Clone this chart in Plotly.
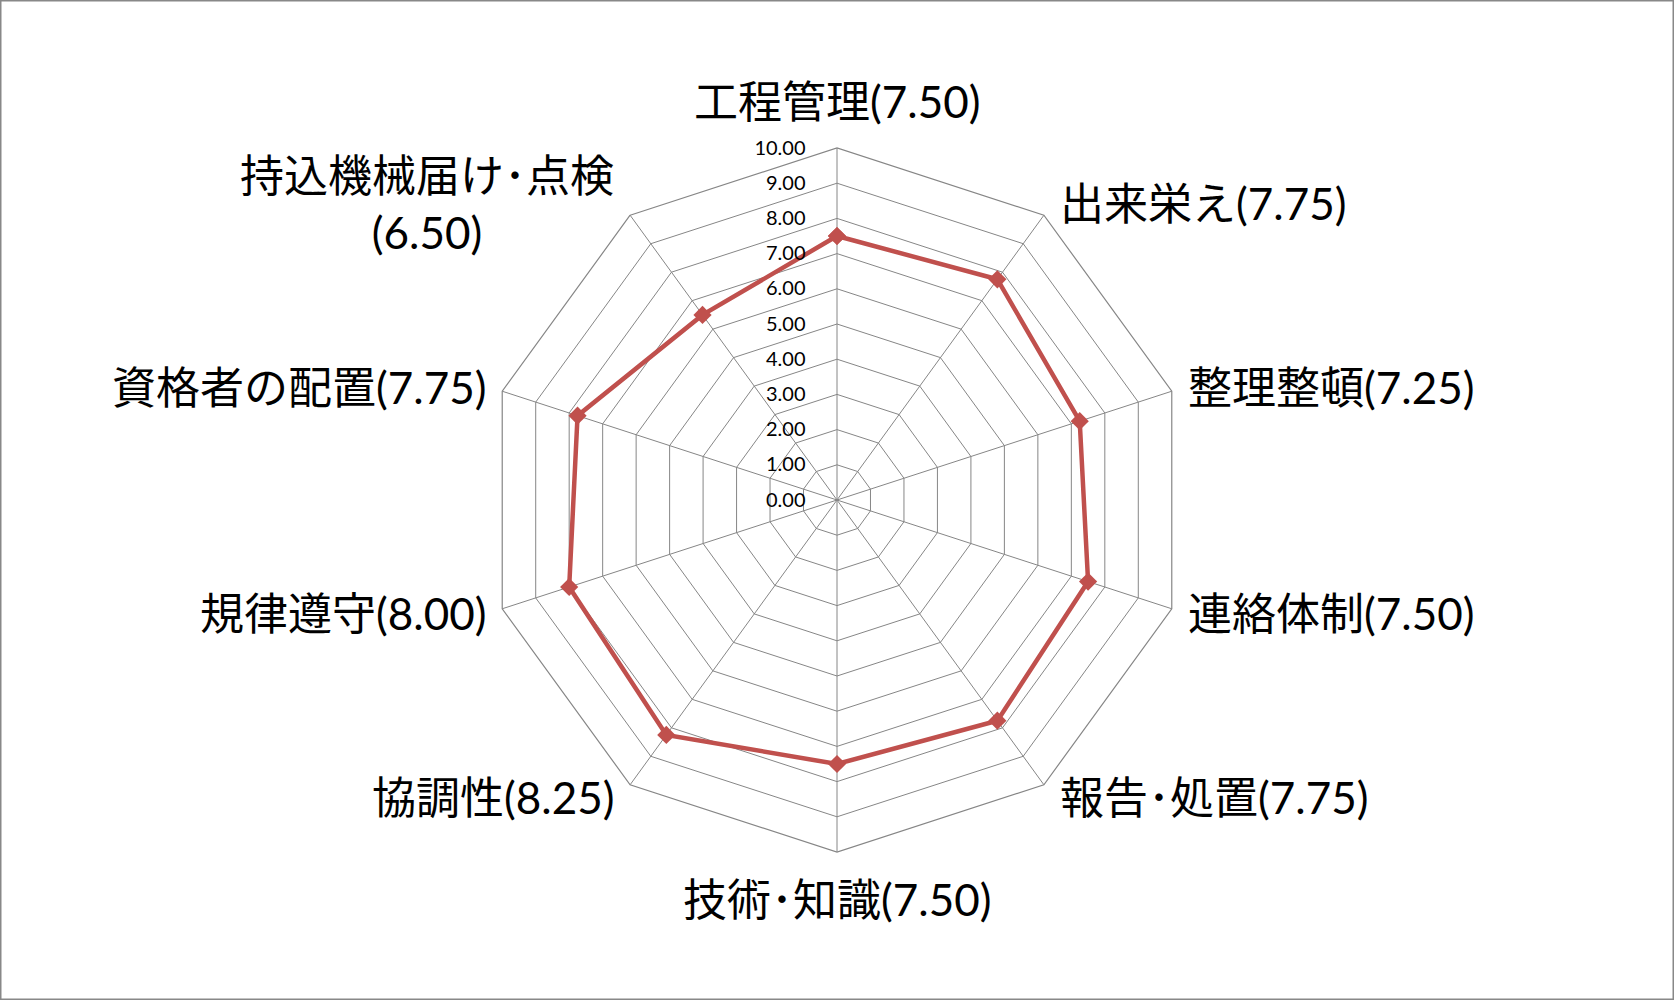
import math
import plotly.graph_objects as go

categories = ["工程管理", "出来栄え", "整理整頓", "連絡体制", "報告･処置",
              "技術･知識", "協調性", "規律遵守", "資格者の配置", "持込機械届け･点検"]
values = [7.50, 7.75, 7.25, 7.50, 7.75, 7.50, 8.25, 8.00, 7.75, 6.50]
radial_ticks = [0, 1, 2, 3, 4, 5, 6, 7, 8, 9, 10]

W, H = 1674, 1000
DOM_X = [0.2897, 0.7103]
DOM_Y = [0.148, 0.852]

FONT = "Lato, 'Noto Sans CJK JP', sans-serif"
GRID = "#868686"
RED = "#C0504D"

fig = go.Figure()
fig.add_trace(go.Scatterpolar(
    r=values + values[:1],
    theta=categories + categories[:1],
    mode="lines+markers",
    line=dict(color=RED, width=4.5),
    marker=dict(symbol="diamond", size=14, color=RED),
    showlegend=False,
))

# category labels placed just outside the outer polygon vertices
cx = (DOM_X[0] + DOM_X[1]) / 2 * W
cy = (1 - (DOM_Y[0] + DOM_Y[1]) / 2) * H
R = (DOM_X[1] - DOM_X[0]) * W / 2
annotations = []
n = len(categories)
for i, (c, v) in enumerate(zip(categories, values)):
    th = 2 * math.pi * i / n
    s, co = math.sin(th), math.cos(th)
    vx, vy = cx + R * s, cy - R * co
    if abs(s) < 0.1:
        xa, dx, dy = "center", 0, -co * 47
    else:
        xa, dx, dy = ("left" if s > 0 else "right"), 14 * (1 if s > 0 else -1), -co * 15
    if c.startswith("持込"):
        text = f"{c}<br>({v:.2f})"
    else:
        text = f"{c}({v:.2f})"
    annotations.append(dict(
        text=text, xref="paper", yref="paper",
        x=(vx + dx) / W, y=1 - (vy + dy) / H,
        xanchor=xa, yanchor="middle", align="center", showarrow=False,
        font=dict(size=44, family=FONT, color="black"),
    ))

fig.update_layout(
    width=W, height=H,
    margin=dict(l=0, r=0, t=0, b=0),
    paper_bgcolor="white",
    font=dict(family=FONT, color="black"),
    annotations=annotations,
    polar=dict(
        domain=dict(x=DOM_X, y=DOM_Y),
        bgcolor="white",
        gridshape="linear",
        angularaxis=dict(
            direction="clockwise",
            rotation=90,
            tickmode="array",
            tickvals=categories,
            showticklabels=False,
            ticks="",
            showline=True, linecolor=GRID, linewidth=1.2,
            gridcolor=GRID, gridwidth=1.2,
        ),
        radialaxis=dict(
            range=[0, 10],
            tickmode="array",
            tickvals=radial_ticks,
            ticktext=[f"{t:.2f}" for t in radial_ticks],
            tickfont=dict(size=20, family=FONT, color="black"),
            angle=90,
            side="counterclockwise",
            tickangle=90,
            showline=False,
            ticks="outside", ticklen=24, tickcolor="rgba(0,0,0,0)",
            gridcolor=GRID, gridwidth=1.2,
        ),
    ),
    shapes=[dict(type="rect", xref="paper", yref="paper", x0=0, y0=0, x1=1, y1=1,
                 line=dict(color="#888888", width=3), fillcolor="rgba(0,0,0,0)")],
)

fig.write_html("out.html", config={"displayModeBar": False},
               post_script="document.body.style.margin='0';document.body.style.overflow='hidden';")
